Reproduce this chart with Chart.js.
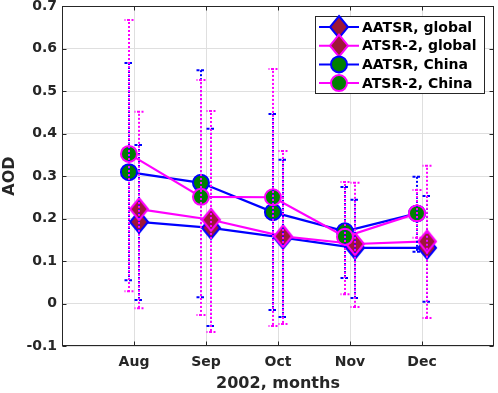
<!DOCTYPE html>
<html><head><meta charset="utf-8">
<script src="https://cdn.jsdelivr.net/npm/chart.js@4/dist/chart.umd.min.js"></script>
<style>html,body{margin:0;padding:0;background:#fff;}</style>
</head><body>
<canvas id="c" width="498" height="393"></canvas>
<script>
// ---- data ----
const months = ['Aug', 'Sep', 'Oct', 'Nov', 'Dec'];
const seriesNames = ['AATSR, global', 'ATSR-2, global', 'AATSR, China', 'ATSR-2, China'];

const aatsrGlobal     = [0.192, 0.178, 0.155, 0.131, 0.131];
const aatsrGlobalLow  = [0.008, -0.053, -0.032, 0.013, 0.004];
const aatsrGlobalHigh = [0.373, 0.411, 0.338, 0.244, 0.253];

const atsr2Global     = [0.222, 0.197, 0.158, 0.140, 0.146];
const atsr2GlobalLow  = [-0.011, -0.067, -0.048, -0.008, -0.034];
const atsr2GlobalHigh = [0.451, 0.453, 0.359, 0.284, 0.324];

const aatsrChina      = [0.309, 0.284, 0.215, 0.170, 0.212];
const aatsrChinaLow   = [0.055, 0.015, -0.015, 0.060, 0.122];
const aatsrChinaHigh  = [0.566, 0.549, 0.446, 0.274, 0.298];

const atsr2China      = [0.352, 0.251, 0.250, 0.157, 0.212];
const atsr2ChinaLow   = [0.029, -0.027, -0.053, 0.022, 0.155];
const atsr2ChinaHigh  = [0.667, 0.526, 0.552, 0.286, 0.267];

const yMin = -0.1, yMax = 0.7, yStep = 0.1;

// ---- styles ----
const BLUE = '#0000ff', MAG = '#ff00ff', DRED = '#9e1838', GREEN = '#008000';
const FONT = 'DejaVu Sans';

function diamondPath(ctx, x, y, hw, hh) {
  ctx.beginPath();
  ctx.moveTo(x, y - hh); ctx.lineTo(x + hw, y);
  ctx.lineTo(x, y + hh); ctx.lineTo(x - hw, y);
  ctx.closePath();
}
function diamondImage(stroke) {
  const c = document.createElement('canvas');
  c.width = 22; c.height = 26;
  const g = c.getContext('2d');
  diamondPath(g, 11, 13, 9, 11);
  g.fillStyle = DRED; g.fill();
  g.lineWidth = 2; g.strokeStyle = stroke; g.stroke();
  return c;
}

const styles = [
  {color: BLUE, fill: DRED,  shape: 'diamond', r: 10, off: 0.07, dashOff: 0},
  {color: MAG,  fill: DRED,  shape: 'diamond', r: 10, off: 0.07, dashOff: 2},
  {color: BLUE, fill: GREEN, shape: 'circle',  r: 8, off: -0.07, dashOff: 0},
  {color: MAG,  fill: GREEN, shape: 'circle',  r: 8, off: -0.07, dashOff: 2},
];
const values = [aatsrGlobal, atsr2Global, aatsrChina, atsr2China];
const lows   = [aatsrGlobalLow, atsr2GlobalLow, aatsrChinaLow, atsr2ChinaLow];
const highs  = [aatsrGlobalHigh, atsr2GlobalHigh, aatsrChinaHigh, atsr2ChinaHigh];

const datasets = values.map((vals, k) => {
  const s = styles[k];
  return {
    label: seriesNames[k],
    data: vals.map((v, i) => ({x: i + 1 + s.off, y: v})),
    errLow: lows[k], errHigh: highs[k],
    borderColor: s.color, borderWidth: 2.2,
    pointStyle: s.shape === 'diamond' ? diamondImage(s.color) : 'circle',
    pointRadius: s.r,
    pointBackgroundColor: s.fill, pointBorderColor: s.color, pointBorderWidth: 2,
    fill: false, tension: 0,
    order: 4 - k
  };
});

function drawMarker(ctx, shape, x, y, fill, stroke) {
  ctx.save();
  if (shape === 'circle') {
    ctx.beginPath(); ctx.arc(x, y, 8, 0, Math.PI * 2);
  } else {
    diamondPath(ctx, x, y, 9, 11);
  }
  ctx.fillStyle = fill; ctx.fill();
  ctx.lineWidth = 2; ctx.strokeStyle = stroke; ctx.stroke();
  ctx.restore();
}

const errorBars = {
  id: 'errorBars',
  afterDatasetsDraw(chart) {
    const ctx = chart.ctx, xs = chart.scales.x, ys = chart.scales.y;
    chart.data.datasets.forEach((ds, k) => {
      const s = styles[k];
      ctx.save();
      ctx.strokeStyle = s.color; ctx.lineWidth = 2;
      ds.data.forEach((p, i) => {
        const px = Math.round(xs.getPixelForValue(p.x));
        const yl = ys.getPixelForValue(ds.errLow[i]);
        const yh = ys.getPixelForValue(ds.errHigh[i]);
        ctx.setLineDash([2, 2]); ctx.lineDashOffset = s.dashOff;
        ctx.beginPath();
        ctx.moveTo(px, yh); ctx.lineTo(px, yl);
        ctx.stroke();
        ctx.setLineDash([3, 1.5]);
        ctx.beginPath();
        ctx.moveTo(px - 4.5, yh); ctx.lineTo(px + 4.5, yh);
        ctx.moveTo(px - 4.5, yl); ctx.lineTo(px + 4.5, yl);
        ctx.stroke();
      });
      ctx.restore();
    });
  }
};

const frameAndLegend = {
  id: 'frameAndLegend',
  afterDraw(chart) {
    const ctx = chart.ctx, a = chart.chartArea, xs = chart.scales.x, ys = chart.scales.y;
    ctx.save();
    ctx.strokeStyle = '#262626'; ctx.lineWidth = 1; ctx.setLineDash([]);
    const L = Math.round(a.left) + 0.5, R = Math.round(a.right) - 0.5;
    const T = Math.round(a.top) + 0.5, B = Math.round(a.bottom) - 0.5;
    ctx.strokeRect(L, T, R - L, B - T);
    ctx.beginPath();
    xs.ticks.forEach(t => {
      const px = Math.round(xs.getPixelForValue(t.value)) + 0.5;
      ctx.moveTo(px, B); ctx.lineTo(px, B - 4);
      ctx.moveTo(px, T); ctx.lineTo(px, T + 4);
    });
    ys.ticks.forEach(t => {
      const py = Math.round(ys.getPixelForValue(t.value)) + 0.5;
      ctx.moveTo(L, py); ctx.lineTo(L + 4, py);
      ctx.moveTo(R, py); ctx.lineTo(R - 4, py);
    });
    ctx.stroke();

    // legend box
    const bx = 315.5, by = 16.5, bw = 169, bh = 77;
    ctx.fillStyle = '#ffffff'; ctx.fillRect(bx, by, bw, bh);
    ctx.strokeStyle = '#262626'; ctx.strokeRect(bx, by, bw, bh);
    ctx.font = 'bold 14px "' + FONT + '"';
    ctx.textBaseline = 'middle'; ctx.textAlign = 'left';
    seriesNames.forEach((name, k) => {
      const s = styles[k];
      const y = 27 + k * 18.7;
      ctx.strokeStyle = s.color; ctx.lineWidth = 2;
      ctx.beginPath(); ctx.moveTo(319, y); ctx.lineTo(359, y); ctx.stroke();
      drawMarker(ctx, s.shape, 339, y, s.fill, s.color);
      ctx.fillStyle = '#000000';
      ctx.fillText(name, 362, y + 1);
    });
    ctx.restore();
  }
};

new Chart(document.getElementById('c'), {
  type: 'line',
  data: {datasets},
  plugins: [errorBars, frameAndLegend],
  options: {
    responsive: false, animation: false,
    layout: {autoPadding: false, padding: {top: 6, right: 4, left: 0, bottom: 0}},
    plugins: {legend: {display: false}, tooltip: {enabled: false}},
    scales: {
      x: {
        type: 'linear', min: 0, max: 6,
        afterBuildTicks: s => { s.ticks = months.map((m, i) => ({value: i + 1})); },
        ticks: {
          callback: v => months[v - 1] || '',
          font: {family: FONT, size: 14, weight: 'bold'}, color: '#262626',
          padding: 8, maxRotation: 0, autoSkip: false
        },
        grid: {color: '#dfdfdf', drawTicks: false},
        border: {display: false},
        title: {display: true, text: '2002, months', color: '#262626',
                font: {family: FONT, size: 16, weight: 'bold'}, padding: {top: 0, bottom: 0}},
        afterFit: s => { s.height = 47; s.paddingLeft = 0; s.paddingRight = 0; }
      },
      y: {
        min: yMin, max: yMax,
        ticks: {
          stepSize: yStep,
          callback: v => String(Math.round(v * 10) / 10),
          font: {family: FONT, size: 14, weight: 'bold'}, color: '#262626', padding: 5
        },
        grid: {color: '#dfdfdf', drawTicks: false},
        border: {display: false},
        title: {display: true, text: 'AOD', color: '#262626',
                font: {family: FONT, size: 16, weight: 'bold'}, padding: {top: 0, bottom: 0}},
        afterFit: s => { s.width = 62; s.paddingTop = 0; s.paddingBottom = 0; }
      }
    }
  }
});
</script>
</body></html>
